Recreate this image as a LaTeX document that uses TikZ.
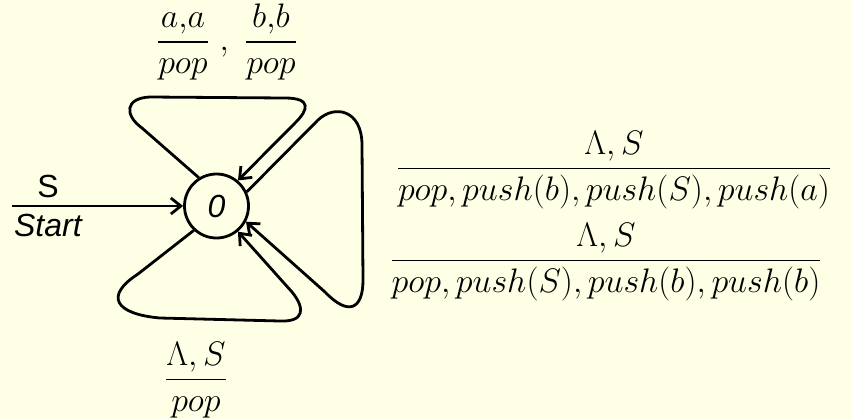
\RequirePackage{fix-cm}
\documentclass[tikz,border=0pt]{standalone}
\usepackage{fontspec}
\usepackage{amsmath}
\usetikzlibrary{arrows.meta}
\newfontfamily\arialfont{Liberation Sans}
\definecolor{bgcream}{RGB}{255,255,230}
\newcommand{\labelsize}{\fontsize{17}{20}\selectfont}

\begin{document}
\begin{tikzpicture}[x=0.5pt,y=-0.5pt,line width=1.4pt,>={Straight Barb[length=5pt,width=8pt]}]
  \tikzstyle{state}=[draw,circle,minimum size=32pt,inner sep=0pt,font=\arialfont\itshape\fontsize{16}{18}\selectfont]
  \tikzstyle{lbl}=[inner sep=0pt,font=\labelsize]
  \tikzstyle{startlbl}=[font=\arialfont\fontsize{16}{18}\selectfont]
  \fill[bgcream] (0,0) rectangle (851,419);
  \node[state] (q0) at (216.5,206) {0};
  \coordinate (start) at (12,206);
  \draw[->] (start) -- node[startlbl,pos=0.21,above] {S} node[startlbl,pos=0.21,below] {\itshape Start} (q0);
  \draw[->] (q0.122) -- (142,128) .. controls (124,115) and (125,98) .. (150,97) -- (285,98) .. controls (312,98) and (308,110) .. (296,122) -- (q0.50);
  \draw[->] (q0.25) -- (318,120) .. controls (335,104) and (362,110) .. (362,145) -- (363,280) .. controls (363,310) and (348,316) .. (325,292) -- (q0.-28);
  \draw[->] (q0.-133) -- (138,274) .. controls (104,296) and (115,314) .. (160,318) -- (280,321) .. controls (305,322) and (305,308) .. (292,292) -- (q0.-50);
  \node[lbl] (looptop) at (227,42) {$\dfrac{a{,}a}{pop}\;,\;\dfrac{b{,}b}{pop}$};
  \node[lbl] (loopbot) at (196,380) {$\dfrac{\Lambda, S}{pop}$};
  \node[lbl] (loopright1) at (614,170) {$\dfrac{\Lambda, S}{pop, push(b), push(S), push(a)}$};
  \node[lbl] (loopright2) at (606,262) {$\dfrac{\Lambda, S}{pop, push(S), push(b), push(b)}$};
\end{tikzpicture}
\end{document}
